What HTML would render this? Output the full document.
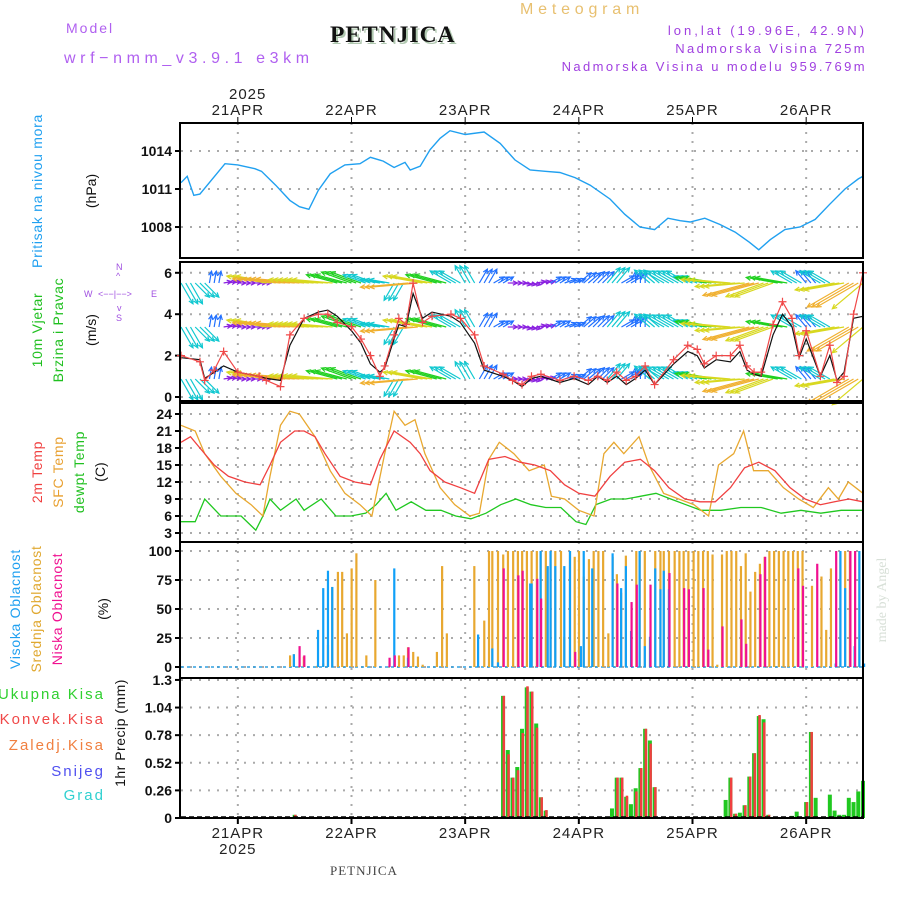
<!DOCTYPE html>
<html><head><meta charset="utf-8"><style>
html,body{margin:0;padding:0;background:#fff;}
svg{display:block;font-family:"Liberation Sans",sans-serif;}
</style></head><body>
<svg id="chart" width="900" height="900" viewBox="0 0 900 900">
<g id="static">
<text x="66" y="33" font-size="14" fill="#b060f0" letter-spacing="2">Model</text>
<text x="64" y="63" font-size="16" fill="#b060f0" letter-spacing="4.6">wrf−nmm_v3.9.1 e3km</text>
<text x="332" y="44" font-size="23.5" font-weight="bold" font-family="Liberation Serif,serif" fill="#b0c8b0" letter-spacing="1">PETNJICA</text>
<text x="330" y="42" font-size="23.5" font-weight="bold" font-family="Liberation Serif,serif" fill="#111" letter-spacing="1">PETNJICA</text>
<text x="520" y="14" font-size="16" fill="#e8c070" letter-spacing="4.8">Meteogram</text>
<text x="867" y="35" font-size="13" fill="#a040e0" text-anchor="end" letter-spacing="3">lon,lat (19.96E, 42.9N)</text>
<text x="867" y="53" font-size="13" fill="#a040e0" text-anchor="end" letter-spacing="2.4">Nadmorska Visina 725m</text>
<text x="867" y="71" font-size="13" fill="#a040e0" text-anchor="end" letter-spacing="2.4">Nadmorska Visina u modelu 959.769m</text>
<text x="229" y="99" font-size="15" fill="#222" letter-spacing="1">2025</text>
<text x="330" y="875" font-size="13" font-family="Liberation Serif,serif" fill="#444" letter-spacing="1">PETNJICA</text>
<text transform="translate(886,600) rotate(-90)" font-size="14" font-family="Liberation Serif,serif" fill="#d8e0d8" text-anchor="middle">made by Angel</text>

<text transform="translate(42,191) rotate(-90)" font-size="14" fill="#20a0f0" text-anchor="middle" letter-spacing="0.7">Pritisak na nivou mora</text>
<text transform="translate(96,191) rotate(-90)" font-size="14" fill="#111" text-anchor="middle">(hPa)</text>
<text transform="translate(42,330) rotate(-90)" font-size="14" fill="#20c020" text-anchor="middle" letter-spacing="0.7">10m Vjetar</text>
<text transform="translate(63,330) rotate(-90)" font-size="14" fill="#20c020" text-anchor="middle" letter-spacing="0.7">Brzina i Pravac</text>
<text transform="translate(96,330) rotate(-90)" font-size="14" fill="#111" text-anchor="middle">(m/s)</text>
<g fill="#a050e0" font-size="9">
<text x="116" y="270">N</text><text x="116" y="279">^</text><text x="116" y="321">S</text>
<text x="84" y="297">W</text><text x="151" y="297">E</text><text x="98" y="297">&lt;−−|−−&gt;</text>
<text x="117" y="311">v</text>
</g>
<text transform="translate(42,472) rotate(-90)" font-size="14" fill="#f04040" text-anchor="middle" letter-spacing="0.7">2m Temp</text>
<text transform="translate(63,472) rotate(-90)" font-size="14" fill="#e8a030" text-anchor="middle" letter-spacing="0.7">SFC Temp</text>
<text transform="translate(84,472) rotate(-90)" font-size="14" fill="#20c020" text-anchor="middle" letter-spacing="0.7">dewpt Temp</text>
<text transform="translate(105,472) rotate(-90)" font-size="14" fill="#111" text-anchor="middle">(C)</text>
<text transform="translate(20,609) rotate(-90)" font-size="14" fill="#20a0f0" text-anchor="middle" letter-spacing="0.7">Visoka Oblacnost</text>
<text transform="translate(41,609) rotate(-90)" font-size="14" fill="#e0a830" text-anchor="middle" letter-spacing="0.7">Srednja Oblacnost</text>
<text transform="translate(62,609) rotate(-90)" font-size="14" fill="#f01090" text-anchor="middle" letter-spacing="0.7">Niska Oblacnost</text>
<text transform="translate(108,609) rotate(-90)" font-size="14" fill="#111" text-anchor="middle">(%)</text>
<g font-size="15" text-anchor="end" letter-spacing="2">
<text x="105" y="699" fill="#30d030">Ukupna  Kisa</text>
<text x="105" y="724" fill="#f04848">Konvek.Kisa</text>
<text x="105" y="750" fill="#f08040">Zaledj.Kisa</text>
<text x="105" y="776" fill="#5050f0">Snijeg</text>
<text x="105" y="800" fill="#30d0d0">Grad</text>
</g>
<text transform="translate(125,733) rotate(-90)" font-size="14" fill="#111" text-anchor="middle" letter-spacing="0.5">1hr Precip (mm)</text>
</g>
<g id="dyn"></g>
</svg>
<script>
// ---------- DATA ----------
const dayLabels = ["21APR","22APR","23APR","24APR","25APR","26APR"];
const pressTicks = [1014, 1011, 1008];
const windTicks = [6, 4, 2, 0];
const tempTicks = [24, 21, 18, 15, 12, 9, 6, 3];
const cloudTicks = [100, 75, 50, 25, 0];
const precipTicks = ["1.3", "1.04", "0.78", "0.52", "0.26", "0"];

const pressHours = [0,1.3,2.7,4,9.3,12,15.6,17,20,23,25,27,29,31.5,34.6,37.8,40,42.7,45,47.3,48.4,50.5,52.6,54.7,56.8,60,64,67.4,70.5,73.7,76.9,80,83.2,86.4,90.6,93.7,96.9,100,102.8,105.4,107.5,110.6,113.8,117,120,122,124.4,127.5,130.7,133.9,137,140.2,143,144];
const pressVals = [1011.5,1012.0,1010.5,1010.6,1013.0,1012.9,1012.6,1012.4,1011.3,1010.1,1009.6,1009.4,1010.9,1012.2,1012.9,1013.0,1013.5,1013.2,1012.7,1013.1,1012.5,1012.8,1014.1,1015.0,1015.6,1015.3,1015.5,1014.6,1013.3,1012.5,1012.4,1012.3,1011.9,1011.3,1010.2,1009.0,1008.0,1007.8,1008.7,1008.5,1008.4,1008.7,1008.2,1007.6,1006.8,1006.2,1007.0,1007.8,1008.0,1008.6,1009.8,1011.0,1011.8,1012.0];

const windHours = [0,4,5,7,9,12,16.5,18,21,23,26,29,31,33,36,38,40,42,43,45,46,47.5,49,51,53,57,59,62,64,68,70,72,74,76,80,83,86,88,90,92,94,96,98,100,104,107,109,110.5,113,116,118,119.5,121,122.5,125,127,129,130.5,132,135,137,138.5,140,142,144];
const windRed = [2.0,1.7,0.8,1.3,2.2,1.2,1.0,0.8,0.5,3.0,3.8,4.0,4.0,3.6,3.4,2.8,2.0,1.0,1.5,3.0,3.8,3.5,5.5,3.6,3.9,4.0,3.8,3.0,1.5,1.1,0.8,0.6,1.0,1.1,0.8,1.0,0.8,1.0,0.8,1.2,0.8,1.0,1.5,0.6,1.8,2.5,2.3,1.6,2.0,2.0,2.5,1.5,1.2,1.2,3.5,4.6,3.8,2.0,3.2,1.0,2.5,0.7,1.0,4.0,6.0].slice(0,65);
const windBlack = [1.9,1.8,0.9,1.2,1.5,1.2,1.0,0.9,0.8,2.5,3.8,4.1,4.2,3.9,3.2,2.6,1.6,1.2,1.4,2.8,3.5,3.4,5.0,3.8,4.1,3.9,3.6,2.6,1.3,1.0,0.8,0.5,0.9,1.0,0.7,0.9,0.6,1.0,0.7,1.0,0.6,0.9,1.3,0.6,1.6,2.2,2.0,1.4,1.8,1.7,2.2,1.3,1.1,1.0,3.0,4.0,3.4,1.9,2.8,1.0,2.0,0.8,1.2,3.8,3.9].slice(0,65);

const arrowSpd = [3,2.5,1.5,1,1,1.2,5,6,6,5,5,4,4,3,2.5,2.5,6,5,4,3,2.5,2,1.5,1.2,1.2,1.2,1.5,1.5,2,2,2.5,1.8,1.5,2.5,3,3,2.5,4,5,5,6,5,4,3,2,3,5,6,5];
const arrowTo = [-60,-45,80,10,0,0,170,175,175,175,175,165,160,160,170,-120,185,170,165,150,120,60,30,0,-10,10,30,20,40,45,50,30,90,140,150,150,160,170,175,185,195,200,170,150,130,150,190,-150,-140];

const tempHours = [0,2,4,7,10,13.5,16.7,18.8,21,24,26,28.3,30.4,33.6,36.7,40,42,45,48.4,50.5,52.6,55.7,59,62,65,68.4,71.6,74.7,78,81,84,87.4,90.6,93.7,97,100,103,106.4,109.6,112.8,116,119,122,125.4,128.6,131.8,135,138,141,144];
const temp2m = [19,20,18,15,13,12,11.5,15,19,21,21,20,17,13,12,11.5,16,21,19,17,14,12,11,10,16,16.5,15.5,15,14,11.5,10,9.5,13,15.5,16,14,11,9,8.5,8.5,11,14.5,15.5,14,11,9,8,8.5,9,8.5];
const sfcHours = [0,3,5,8.4,11.6,14.8,17.3,18.8,21,23,25,28.3,31.5,34.6,37.8,40.3,43,45,47.3,49.4,51.5,54.7,57.8,61,63,65,67.2,70.3,73.5,76.7,78.2,81,84,87.2,89.3,91.4,93.5,96.7,98.8,101.9,105.1,108.3,111.4,113.5,116.7,118.8,120.9,124,127.2,130.4,133.5,136.7,138.8,140.9,144];
const tempSfc = [22,21,17,13,10,8,6,13,22,24.5,24,20,14,10,8,6,17,24.5,22,23,17,11,8,6,6.5,16,19,17,14,15,9.5,9,7,6,17,19,17,20,15,10,9,8,6,15,17,21,14,14,11,9,7.5,11,9,12,10];
const dewHours = [0,3,5,8.4,12.7,15.8,17.3,18.8,21,24.3,26,29.6,32.7,35.9,39,41.2,43.3,45.4,48.6,51.7,54.9,58,61.2,64.4,67.5,70.7,73.9,77,80.2,83.4,85.5,87.6,90.8,93.9,97.1,100.3,103.4,106.6,109.8,114,118.2,122.5,126.7,130.9,135.1,139.4,144];
const tempDew = [5,5,9,6,6,3.5,6,9,7,9,7,9,6,6,6.5,8,10,7,8.5,7,7,6,5.5,6.5,8,9,8,7.5,7.5,5,4.5,8,9,9,9.5,10,9,8,7,7,7.5,7.5,6.5,7,6.5,7,7];

const cHighH = [23.6,28.7,29.8,30.8,31.7,44.8,47.7,62.5,65.5,66.7,73.5,73.8,77.2,75.7,77.8,78.8,80.7,81.9,84.2,84.8,86.6,90.9,92.7,93.7,94.8,96.6,97.7,98.8,99.9,101,101.7,102.8,138,139,140,142,143,144];
const cHighV = [11,32,68,83,69,85,8,28,16,4,72,72,87,100,100,87,87,100,18,100,85,98,68,87,31,100,18,26,85,67,83,67,3,100,68,18,100,3];
const cMidH = [22.8,23.6,25.7,28.5,29.8,30.8,31.7,32.9,33.8,34.8,35.8,36.8,38.9,40.8,45.8,46.8,47.7,48.8,49.8,50.8,53.8,54.9,55.9,61.7,62.5,63.8,64.8,65.5,66.7,67.8,68.8,69.9,70.9,71.8,72.8,73.8,74.9,75.7,76.8,77.8,78.8,80,80.7,81.9,82.9,83.8,84.8,85.9,86.9,87.9,88.9,90,90.9,91.8,92.7,93.7,94.8,95.9,96.6,97.7,98.8,99.9,101,101.7,102.8,104,105,105.9,106.9,108,109,110,111,112,113,114,115,116,117,118,119,120,121,122,123,124,125,126,127,128,129,130,131,133,135,136,137,139,140,141,143];
const cMidV = [10,11,9,1,3,19,69,82,82,29,85,98,10,75,10,10,17,13,9,2,13,87,29,87,0,40,100,100,100,97,100,100,100,100,100,100,100,100,100,100,100,100,26,100,95,100,78,93,100,100,100,29,95,80,64,96,31,100,100,100,26,100,100,100,100,100,100,100,100,100,100,100,100,97,2,97,100,100,100,87,98,65,82,89,95,100,100,100,100,100,100,100,100,70,78,32,85,100,100,100,100];
const cLowH = [24.7,25.7,43.7,44.8,47.7,67.8,70.9,71.8,74.9,75.7,82.9,91.8,94.8,95.9,98.8,102.8,105.9,106.9,110,111,114,118,119,122,123,130,131,134,138,141,142];
const cLowV = [18,10,8,10,17,85,79,83,76,59,13,72,56,71,71,81,68,67,68,15,35,41,20,80,95,85,70,89,100,100,100];

const precHours = [24,68,69,70,71,72,73,74,75,76,77,91,92,93,94,95,96,97,98,99,100,115,116,117,118,119,120,121,122,123,124,129,130,132,133,134,137,138,139,140,141,142,143,144];
const precTotal = [0.03,1.15,0.64,0.38,0.48,0.84,1.23,1.19,0.89,0.195,0.07,0.09,0.38,0.38,0.2,0.13,0.28,0.47,0.84,0.73,0.29,0.17,0.38,0.04,0.05,0.12,0.39,0.61,0.96,0.93,0.03,0.02,0.06,0.15,0.81,0.19,0.22,0.07,0.03,0.03,0.19,0.15,0.25,0.35];
const precConv = [0.03,1.15,0.6,0.38,0.45,0.8,1.24,1.19,0.85,0.195,0.075,0.0,0.38,0.38,0.21,0.0,0.25,0.47,0.84,0.7,0.29,0.0,0.38,0.04,0.0,0.12,0.39,0.61,0.97,0.9,0.03,0.0,0.0,0.15,0.81,0.0,0.0,0.0,0.0,0.0,0.0,0.0,0.0,0.0];

// ---------- SCALES ----------
const X0 = 181, X1 = 863, HOURS = 144;
const xOf = h => X0 + h * (X1 - X0) / HOURS;
const dayX = i => xOf(12 + 24 * i);
const yPress = p => 151 + (1014 - p) * 12.67;
const yWind = s => 397 - s * 20.7;
const yTemp = t => 533 - (t - 3) * 17 / 3;
const yCloud = c => 667 - c * 1.16;
const yPrec = v => 818 - v * 106.2;

const NS = "http://www.w3.org/2000/svg";
const dyn = document.getElementById("dyn");
function mk(tag, attrs, parent) {
  const e = document.createElementNS(NS, tag);
  for (const k in attrs) e.setAttribute(k, attrs[k]);
  (parent || dyn).appendChild(e);
  return e;
}

const panels = [
  {name:"pressure-panel", top:123, bottom:258},
  {name:"wind-panel", top:262, bottom:401},
  {name:"temperature-panel", top:403, bottom:542},
  {name:"cloud-panel", top:542, bottom:678},
  {name:"precip-panel", top:678, bottom:818}
];
panels.forEach(p => {
  for (let i = 0; i < dayLabels.length; i++) {
    const gl = mk("line", {x1:dayX(i), x2:dayX(i), y1:p.top, y2:p.bottom, stroke:"#aaa", "stroke-width":2, "stroke-dasharray":"2,7"});
    
    
  }
});
function hgrid(ticks, yf, labels) {
  ticks.forEach((t, i) => {
    const y = yf(+t);
    const gl = mk("line", {x1:X0, x2:X1, y1:y, y2:y, stroke:"#aaa", "stroke-width":2, "stroke-dasharray":"2,7"});
    
    
    mk("line", {x1:X0 - 6, x2:X0, y1:y, y2:y, stroke:"#000", "stroke-width":2});
    const tx = mk("text", {x:X0 - 9, y:y + 5, "font-size":14, "font-weight":"bold", "text-anchor":"end", fill:"#111"});
    tx.textContent = labels ? labels[i] : t;
    
    
  });
}
hgrid(pressTicks, yPress);
hgrid(windTicks, yWind);
hgrid(tempTicks, yTemp);
hgrid(cloudTicks, yCloud);
hgrid(precipTicks, yPrec, precipTicks);

dayLabels.forEach((d, i) => {
  const t = mk("text", {x:dayX(i), y:115, "font-size":15, "text-anchor":"middle", fill:"#222", "letter-spacing":1});
  t.textContent = d;
  
  
  const b = mk("text", {x:dayX(i), y:838, "font-size":15, "text-anchor":"middle", fill:"#222", "letter-spacing":1});
  b.textContent = d;
  
  
  mk("line", {x1:dayX(i), x2:dayX(i), y1:117, y2:123, stroke:"#000", "stroke-width":1});
  mk("line", {x1:dayX(i), x2:dayX(i), y1:818, y2:824, stroke:"#000", "stroke-width":2});
});
const yb = mk("text", {x:dayX(0), y:854, "font-size":15, "text-anchor":"middle", fill:"#222", "letter-spacing":1});
yb.textContent = "2025";



function polyline(hs, vs, yf, color, name, w) {
  const pts = hs.map((h, i) => xOf(h).toFixed(1) + "," + yf(vs[i]).toFixed(1)).join(" ");
  const pl = mk("polyline", {points:pts, fill:"none", stroke:color, "stroke-width":w || 1.3});
  
  
  return pl;
}
polyline(pressHours, pressVals, yPress, "#20a0f0", "pressure-line", 1.4);

const arrowRows = [283, 327, 379];
const spdColor = s => s < 1.4 ? "#8a20e0" : s < 2.2 ? "#2070ff" : s < 3.5 ? "#10c8d0" : s < 4.5 ? "#20d020" : s < 5.5 ? "#d8d820" : "#f0b030";
const wg = mk("g", {});


arrowSpd.forEach((s, i) => {
  for (let k = 0; k < 3; k++) {
    const h = i * 3 + k;
    if (h > HOURS) continue;
    arrowRows.forEach(yr => {
      const x = xOf(h), L = s * 8, a = arrowTo[i] * Math.PI / 180;
      const x2 = x + L * Math.cos(a), y2 = yr - L * Math.sin(a);
      const c = spdColor(s);
      const ln = mk("line", {x1:x, y1:yr, x2:x2, y2:y2, stroke:c, "stroke-width":1.2}, wg);
      
      
      const b1 = a + Math.PI - 0.45, b2 = a + Math.PI + 0.45;
      mk("polyline", {points:`${x2+5*Math.cos(b1)},${y2-5*Math.sin(b1)} ${x2},${y2} ${x2+5*Math.cos(b2)},${y2-5*Math.sin(b2)}`, fill:"none", stroke:c, "stroke-width":1.2}, wg);
    });
  }
});
polyline(windHours, windBlack, yWind, "#111", "wind-mean-line", 1.2);
polyline(windHours, windRed, yWind, "#f04848", "wind-gust-line", 1.2);
windHours.forEach((h, i) => {
  const x = xOf(h), y = yWind(windRed[i]);
  const m = mk("path", {d:`M${x-4},${y}H${x+4}M${x},${y-4}V${y+4}`, stroke:"#f04848", "stroke-width":1.2});
  
  
});

polyline(dewHours, tempDew, yTemp, "#20c820", "dewpoint-line");
polyline(sfcHours, tempSfc, yTemp, "#e8a830", "sfc-temp-line");
polyline(tempHours, temp2m, yTemp, "#f04040", "temp-2m-line");

function cloudBars(hs, vs, color, off, name) {
  hs.forEach((h, i) => {
    const x = xOf(h) + off, y = yCloud(vs[i]);
    const r = mk("rect", {x:x, y:y, width:2.2, height:Math.max(0, 667 - y), fill:color});
    
    
  });
}
mk("line", {x1:X0, x2:X1, y1:667, y2:667, stroke:"#30a0e0", "stroke-width":1.5, "stroke-dasharray":"3,3"});
cloudBars(cMidH, cMidV, "#e8a830", 0, "cloud-mid-bar");
cloudBars(cHighH, cHighV, "#10a0f8", 0, "cloud-high-bar");
cloudBars(cLowH, cLowV, "#f01090", 0.5, "cloud-low-bar");

precHours.forEach((h, i) => {
  const x = xOf(h);
  const g = mk("rect", {x:x - 2, y:yPrec(precTotal[i]), width:4, height:818 - yPrec(precTotal[i]), fill:"#20c820"});
  
  
  if (precConv[i] > 0) {
    const r = mk("rect", {x:x - 0.5, y:yPrec(precConv[i]), width:2.5, height:818 - yPrec(precConv[i]), fill:"#f04040"});
    
    
  }
});
mk("line", {x1:X0, x2:X1, y1:817, y2:817, stroke:"#000", "stroke-width":1.5, "stroke-dasharray":"5,3"});

panels.forEach(p => {
  const r = mk("rect", {x:X0 - 1, y:p.top, width:X1 - X0 + 1, height:p.bottom - p.top, fill:"none", stroke:"#000", "stroke-width":2});
  
  
});
</script>
</body></html>
